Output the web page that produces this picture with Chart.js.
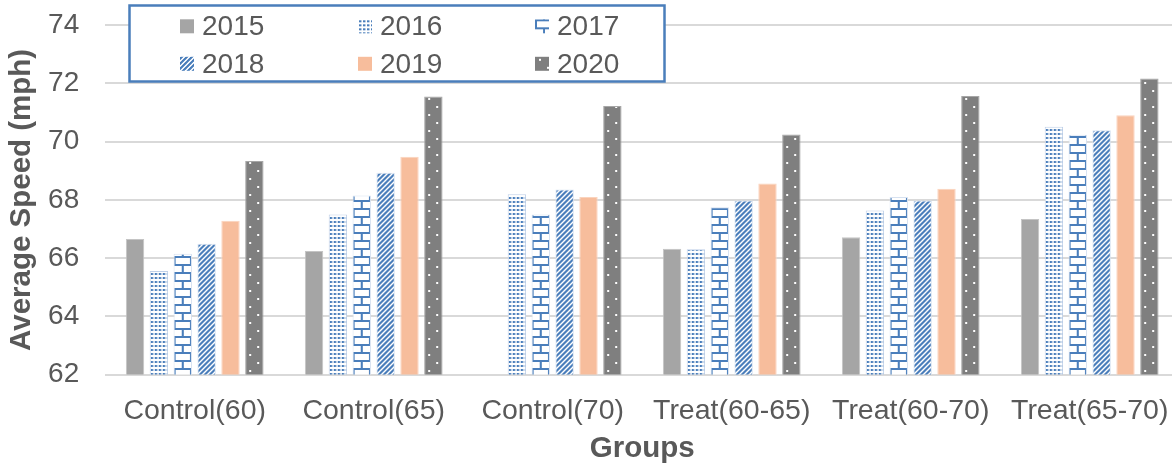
<!DOCTYPE html>
<html><head><meta charset="utf-8">
<script src="https://cdn.jsdelivr.net/npm/chart.js@4.4.1/dist/chart.umd.min.js"></script>
<style>
html,body{margin:0;padding:0;background:#fff;overflow:hidden;}
#wrap{position:relative;width:1180px;height:467px;}
</style></head><body>
<div id="wrap"><canvas id="c"></canvas></div>
<script>
const categories = ['Control(60)','Control(65)','Control(70)','Treat(60-65)','Treat(60-70)','Treat(65-70)'];
const seriesNames = ['2015','2016','2017','2018','2019','2020'];
const v2015 = [66.66, 66.24, null, 66.32, 66.72, 67.34];
const v2016 = [65.56, 67.50, 68.19, 66.30, 67.64, 70.51];
const v2017 = [66.15, 68.15, 67.50, 67.75, 68.10, 70.24];
const v2018 = [66.49, 68.93, 68.36, 67.98, 67.98, 70.39];
const v2019 = [67.28, 69.48, 68.10, 68.56, 68.38, 70.91];
const v2020 = [69.34, 71.55, 71.23, 70.25, 71.57, 72.17];
const yMin = 62, yMax = 74, yStep = 2;
const xTitle = 'Groups';
const yTitle = 'Average Speed (mph)';

const CAT_PCT = 0.8, BAR_PCT = 0.77;
const BLUE = '#4A7EBB';
const TEXT = '#595959';
const FONT = '"Liberation Sans", Arial, sans-serif';

function tile(w,h,fn){const c=document.createElement('canvas');c.width=w;c.height=h;const g=c.getContext('2d');fn(g,w,h);return c;}
const T16 = tile(4,4,(g)=>{g.fillStyle='#fff';g.fillRect(0,0,4,4);g.fillStyle=BLUE;g.fillRect(1,1,2,2);g.fillStyle='rgba(74,126,187,0.45)';g.fillRect(3,1,1,2);});
const T17 = tile(18,16,(g,w,h)=>{g.fillStyle='#fff';g.fillRect(0,0,w,h);g.fillStyle=BLUE;
  g.fillRect(0,0,w,2);g.fillRect(0,8,w,2);g.fillRect(0,2,2,6);g.fillRect(w-2,2,2,6);g.fillRect(w/2-1,10,2,6);});
const T18 = tile(5,5,(g)=>{g.fillStyle='#fff';g.fillRect(0,0,5,5);g.fillStyle=BLUE;
  for(let y=0;y<5;y++)for(let x=0;x<5;x++)if((x+y)%5<3)g.fillRect(x,y,1,1);});
const T20 = tile(16,16,(g)=>{g.fillStyle='#7F7F7F';g.fillRect(0,0,16,16);g.fillStyle='#fff';g.fillRect(4,2,2,2);g.fillRect(12,10,2,2);});

function barGeom(ctx){
  const xs = ctx.chart.scales.x;
  if(!xs || !xs.width) return {left:0,w:18};
  const cw = xs.width / categories.length;
  const size = cw*CAT_PCT, chunk = size/seriesNames.length;
  const center = xs.getPixelForValue(ctx.dataIndex) - size/2 + chunk*(ctx.datasetIndex+0.5);
  const w = chunk*BAR_PCT;
  return {left:center-w/2, w};
}
function patternFill(tileCanvas, stretch){
  return (ctx)=>{
    const p = ctx.chart.ctx.createPattern(tileCanvas,'repeat');
    if(ctx.type==='data'){
      const {left,w} = barGeom(ctx);
      const sx = stretch ? w/tileCanvas.width : 1;
      p.setTransform(new DOMMatrix([sx,0,0,1,left,0]));
    }
    return p;
  };
}

const fills = [
  '#A5A5A5',
  patternFill(T16,false),
  patternFill(T17,true),
  patternFill(T18,false),
  '#F7BD9C',
  patternFill(T20,false)
];
const borders = ['#C4C4C4','#BFD0E8','#D6E1F0','#D6E1F0','#FAD3BD','#A6A6A6'];
const tilesForLegend = [null,T16,T17,T18,null,T20];
const solidLegend = ['#A5A5A5',null,null,null,'#F7BD9C',null];
const values = [v2015,v2016,v2017,v2018,v2019,v2020];

const legendPlugin = {
  id:'boxLegend',
  afterDraw(chart){
    const g = chart.ctx;
    g.save();
    g.fillStyle='#fff'; g.fillRect(129.5,5.5,535,76);
    g.strokeStyle=BLUE; g.lineWidth=2.5; g.strokeRect(129.5,5.5,535,76);
    const cols=[180,358,535], rows=[27.3,64.8], sw=14;
    g.font='28px '+FONT; g.textBaseline='middle'; g.textAlign='left';
    seriesNames.forEach((name,i)=>{
      const x=cols[i%3], y=rows[Math.floor(i/3)];
      const sy = y - sw/2 - 1;
      if(solidLegend[i]){ g.fillStyle=solidLegend[i]; }
      else { const p=g.createPattern(tilesForLegend[i],'repeat'); p.setTransform(new DOMMatrix([1,0,0,1,x,sy])); g.fillStyle=p; }
      g.fillRect(x,sy,sw,sw);
      g.fillStyle=TEXT;
      g.fillText(name, x+sw+8, y);
    });
    g.restore();
  }
};

Chart.defaults.font.family = FONT;
Chart.defaults.color = TEXT;

new Chart(document.getElementById('c'), {
  type:'bar',
  data:{
    labels:categories,
    datasets: seriesNames.map((n,i)=>({
      label:n, data:values[i],
      backgroundColor:fills[i], borderColor:borders[i], borderWidth:1,
      categoryPercentage:CAT_PCT, barPercentage:BAR_PCT
    }))
  },
  options:{
    responsive:true, maintainAspectRatio:false, animation:false,
    layout:{padding:{top:25.3,right:0.8,left:0,bottom:0}},
    plugins:{legend:{display:false}, tooltip:{enabled:false}},
    scales:{
      x:{
        grid:{display:false, drawTicks:false},
        border:{display:false},
        ticks:{font:{size:28.5}, color:TEXT, padding:20, maxRotation:0, autoSkip:false},
        title:{display:true, text:xTitle, font:{size:29.5, weight:'bold'}, color:TEXT, padding:{top:0,bottom:0}},
        afterFit(s){ s.height = 92.5; s.paddingLeft = 0; s.paddingRight = 0; }
      },
      y:{
        min:yMin, max:yMax,
        grid:{color:'#D9D9D9', lineWidth:2, drawTicks:false},
        border:{display:false},
        ticks:{stepSize:yStep, font:{size:28}, color:TEXT, padding:26},
        title:{display:true, text:yTitle, font:{size:29.5, weight:'bold'}, color:TEXT, padding:{top:4,bottom:0}},
        afterFit(s){ s.width = 105.2; s.paddingTop = 0; s.paddingBottom = 0; }
      }
    }
  },
  plugins:[legendPlugin]
});
</script>
</body></html>
